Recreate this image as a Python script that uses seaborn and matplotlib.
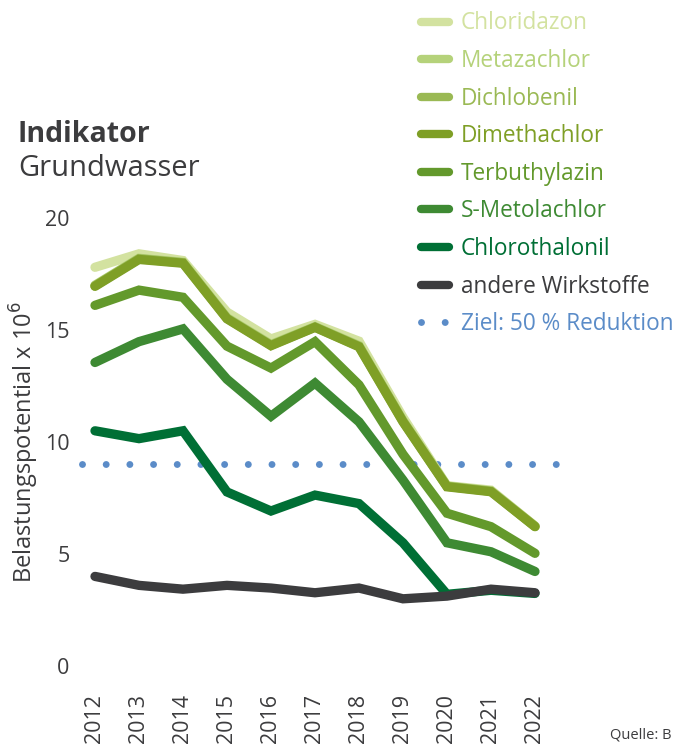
import numpy as np
import pandas as pd
import matplotlib.pyplot as plt
import seaborn as sns
from matplotlib.lines import Line2D

years = list(range(2012, 2023))

# cumulative values (Belastungspotential x 10^6)
chloridazon = [17.8, 18.4, 18.1, 15.8, 14.6, 15.25, 14.5, 11.1, 8.05, 7.85, 6.25]
metazachlor = [17.0, 18.2, 18.02, 15.55, 14.35, 15.15, 14.3, 10.95, 8.03, 7.81, 6.24]
dichlobenil = [16.97, 18.18, 18.0, 15.52, 14.32, 15.13, 14.27, 10.92, 8.02, 7.8, 6.23]
dimethachlor = [16.95, 18.15, 17.98, 15.5, 14.3, 15.12, 14.25, 10.9, 8.0, 7.78, 6.22]
terbuthylazin = [16.1, 16.78, 16.46, 14.28, 13.3, 14.48, 12.55, 9.45, 6.82, 6.22, 5.03]
s_metolachlor = [13.55, 14.48, 15.05, 12.8, 11.15, 12.63, 10.9, 8.3, 5.5, 5.1, 4.22]
chlorothalonil = [10.5, 10.15, 10.5, 7.77, 6.92, 7.63, 7.25, 5.5, 3.2, 3.38, 3.24]
andere = [4.0, 3.6, 3.43, 3.6, 3.48, 3.27, 3.48, 3.0, 3.12, 3.43, 3.27]
ziel = 9.0

names = ['Chloridazon', 'Metazachlor', 'Dichlobenil', 'Dimethachlor',
         'Terbuthylazin', 'S-Metolachlor', 'Chlorothalonil', 'andere Wirkstoffe']
series = [chloridazon, metazachlor, dichlobenil, dimethachlor,
          terbuthylazin, s_metolachlor, chlorothalonil, andere]
colors = ['#d3e2a0', '#b5d27a', '#9ab954', '#7f9f26',
          '#63992c', '#3e8a33', '#006f35', '#3c3c3e']
ziel_color = '#5b8cc8'

df = pd.DataFrame({
    'Jahr': np.tile(years, len(names)),
    'Wert': np.concatenate(series),
    'Wirkstoff': np.repeat(names, len(years)),
})

sns.set_theme(style="white")
plt.rcParams['font.family'] = ['Open Sans', 'DejaVu Sans']
text_color = '#3c3c3e'

fig = plt.figure(figsize=(6.76, 7.44), dpi=100)
ax = fig.add_axes([78 / 676, 78 / 744, 479 / 676, 448 / 744])

sns.lineplot(data=df, x='Jahr', y='Wert', hue='Wirkstoff', hue_order=names,
             palette=dict(zip(names, colors)), linewidth=6.7,
             solid_capstyle='round', solid_joinstyle='miter', legend=False, ax=ax)

dots = (0, (0.001, 3.41))
ax.plot([2011.698, 2022.49], [ziel, ziel], color=ziel_color, linewidth=5,
        linestyle=dots, dash_capstyle='round', zorder=1, clip_on=False)

ax.set_xlim(2011.614, 2022.5)
ax.set_ylim(0, 20)
ax.set_yticks([0, 5, 10, 15, 20])
ax.set_xticks(years)
ax.set_xticklabels([str(y) for y in years], rotation=90)
ax.tick_params(axis='both', length=0, labelsize=15.5, labelcolor=text_color)
ax.tick_params(axis='x', pad=20)
ax.tick_params(axis='y', pad=6)
ax.set_xlabel('')
ax.set_ylabel('Belastungspotential x 10$^6$', fontsize=17, color=text_color, labelpad=3)
sns.despine(left=True, bottom=True)

fig.text(18 / 676, 1 - 134 / 744, 'Indikator', fontsize=20.5, fontweight='bold',
         color=text_color, va='center', ha='left')
fig.text(18 / 676, 1 - 168 / 744, 'Grundwasser', fontsize=21,
         color=text_color, va='center', ha='left')
fig.text(610 / 676, 1 - 735 / 744, 'Quelle: B', fontsize=10.5, color=text_color,
         va='center', ha='left')

handles = [Line2D([], [], color=c, linewidth=6, solid_capstyle='round') for c in colors]
handles.append(Line2D([], [], color=ziel_color, linewidth=5,
                      linestyle=dots, dash_capstyle='round'))
labels = names + ['Ziel: 50 % Reduktion']
leg = fig.legend(handles, labels, loc='upper left', bbox_to_anchor=(401 / 676, 1.012),
                 frameon=False, fontsize=16.3, handlelength=1.2, handletextpad=0.55,
                 labelspacing=0.6, labelcolor='linecolor')
leg.get_texts()[-1].set_color(ziel_color)

fig.savefig('out.png', dpi=100)
